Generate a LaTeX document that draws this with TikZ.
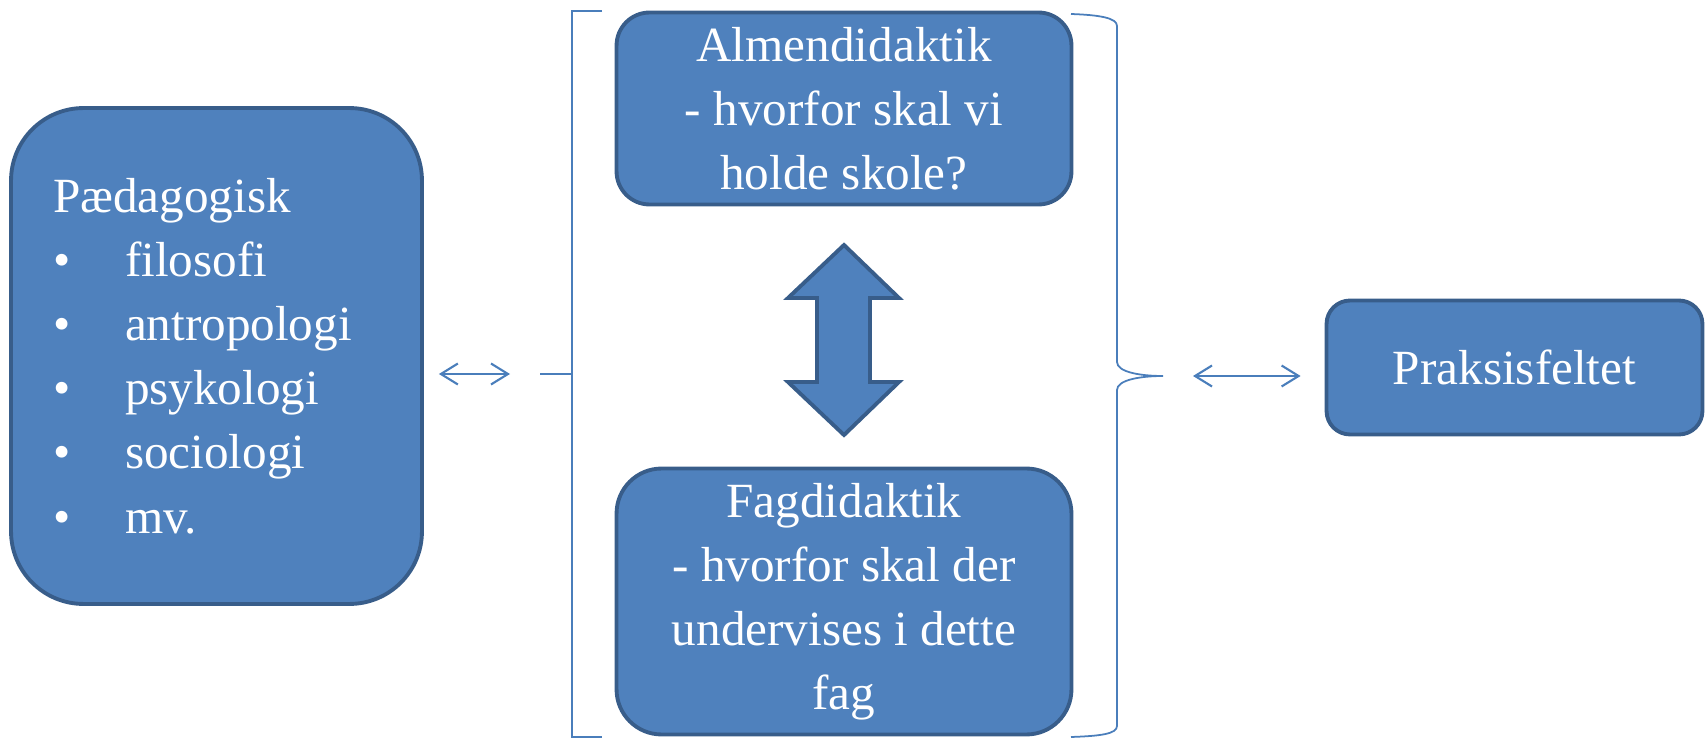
\documentclass[tikz,border=0pt]{standalone}
\usepackage{fontspec}
\setmainfont{Liberation Serif}
\usepackage{xcolor}
\usepackage{tikz}
\usetikzlibrary{positioning,calc,arrows.meta}

\definecolor{boxfill}{HTML}{4F81BD}
\definecolor{boxline}{HTML}{385D8A}
\definecolor{thinline}{HTML}{4A7EBB}

\tikzset{
	didbox/.style = {draw = boxline, fill = boxfill, line width = 2.2pt, text = white,
		font = \fontsize{28}{36.5}\selectfont, align = center, inner sep = 0pt},
	thin/.style = {draw = thinline, line width = 1pt},
	link/.style = {thin, line width = 1.2pt, {Straight Barb[length=0.34cm,width=0.42cm]}-{Straight Barb[length=0.34cm,width=0.42cm]}}
}
\newcommand{\itm}[1]{\makebox[1.44cm][l]{\textbullet}#1}

\begin{document}
\begin{tikzpicture}[x=0.02cm, y=-0.02cm]
	\useasboundingbox (0,0) rectangle (1707,739);

	\node[didbox, rounded corners = 1.45cm, minimum height = 9.92cm, text width = 6.54cm,
		inner xsep = 0.84cm, align = left] (ped) at (216.5,356)
		{P\ae dagogisk\\ \itm{filosofi}\\ \itm{antropologi}\\ \itm{psykologi}\\ \itm{sociologi}\\ \itm{mv.}};
	\node[didbox, rounded corners = 0.66cm, minimum width = 9.1cm, minimum height = 3.84cm] (almen) at (844,108.5)
		{Almendidaktik\\- hvorfor skal vi\\holde skole?};
	\node[didbox, rounded corners = 0.9cm, minimum width = 9.1cm, minimum height = 5.32cm] (fag) at (844,601.5)
		{Fagdidaktik\\- hvorfor skal der\\undervises i dette\\fag};
	\node[didbox, rounded corners = 0.47cm, minimum width = 7.52cm, minimum height = 2.68cm] (praksis) at (1514.5,367.5)
		{Praksisfeltet};

	% double arrow between the two didactics
	\draw[boxline, fill = boxfill, line width = 2.2pt, line join = miter]
		(844,245) -- (899,298) -- (870,298) -- (870,382) -- (899,382) -- (844,435)
		-- (788,382) -- (817,382) -- (817,298) -- (788,298) -- cycle;

	% bracket and brace
	\coordinate (tickL) at (540,374);
	\coordinate (braceTip) at (1163,376);
	\draw[thin] (602,11) -- (572,11) -- (572,737) -- (602,737);
	\draw[thin] (tickL) -- (572,374);
	\draw[thin] (1071,14) .. controls (1100,15) and (1117,18) .. (1117,26) -- (1117,362)
		.. controls (1117,372) and (1140,376) .. (braceTip)
		.. controls (1140,376) and (1117,380) .. (1117,390) -- (1117,726)
		.. controls (1117,734) and (1100,736) .. (1071,737);

	\draw[link, shorten <= 0.3cm, shorten >= 0.6cm] (ped.east |- tickL) -- (tickL);
	\draw[link, shorten <= 0.6cm, shorten >= 0.48cm] (braceTip) -- (praksis.west |- braceTip);
\end{tikzpicture}
\end{document}
